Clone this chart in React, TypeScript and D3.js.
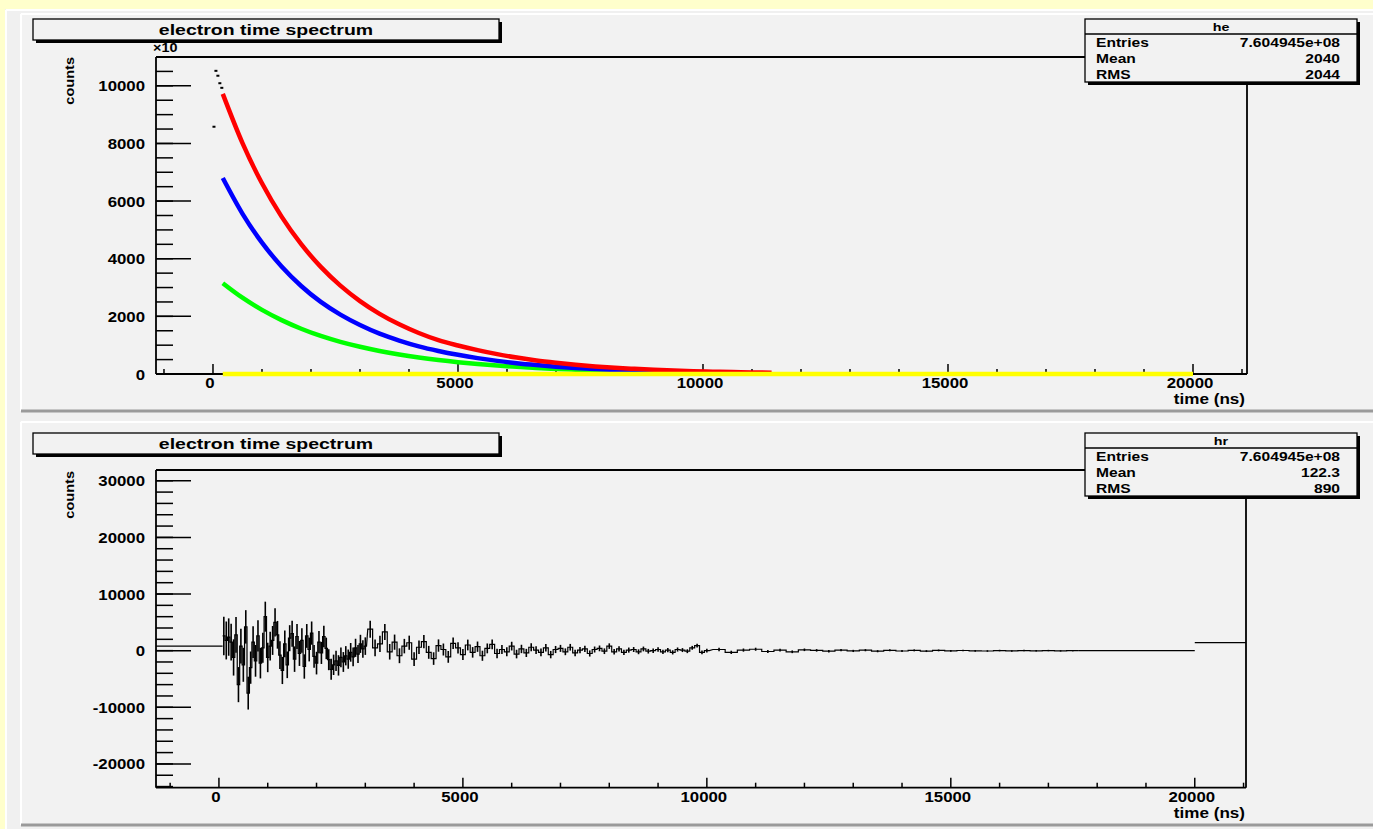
import React from 'react';
import * as d3 from 'd3';

const W = 1373;
const H = 829;
const FONT = '"Liberation Sans", Arial, Helvetica, sans-serif';

// ---------- top panel: electron time spectrum (he) ----------
const redT = [200, 600, 1000, 1400, 1800, 2200, 2600, 3000, 3400, 3800, 4200, 4600, 5000, 5400, 5800, 6200, 6600, 7000, 7400, 7800, 8200, 8600, 9000, 9400, 9800, 10200, 10600, 11000, 11400];
const redV = [9720, 8020, 6617, 5460, 4505, 3717, 3067, 2531, 2088, 1723, 1422, 1173, 990, 830, 690, 570, 470, 390, 320, 262, 215, 178, 146, 120, 99, 82, 68, 56, 46];
const blueT = [200, 600, 1000, 1400, 1800, 2200, 2600, 3000, 3400, 3800, 4200, 4600, 5000, 5400, 5800, 6200, 6600, 7000, 7400, 7800, 8200, 8600, 9000, 9400, 9800];
const blueV = [6800, 5567, 4558, 3732, 3055, 2501, 2060, 1700, 1400, 1160, 960, 800, 665, 550, 455, 375, 310, 255, 210, 172, 140, 115, 94, 77, 63];
const greenT = [200, 600, 1000, 1400, 1800, 2200, 2600, 3000, 3400, 3800, 4200, 4600, 5000, 5400, 5800, 6200, 6600, 7000, 7400, 7800, 8200, 8600, 9000, 9400, 9800];
const greenV = [3150, 2647, 2225, 1870, 1571, 1320, 1115, 945, 800, 677, 573, 485, 410, 347, 293, 248, 210, 177, 150, 127, 107, 90, 76, 64, 54];
const yellowT = [200, 20000];
const yellowV = [0, 0];
const blackT = [20, 60, 100, 140, 180];
const blackV = [8580, 10520, 10350, 10090, 9930];

const topYMajor = [0, 2000, 4000, 6000, 8000, 10000];
const xMajor = [0, 5000, 10000, 15000, 20000];

const statsTop = { name: 'he', rows: [['Entries', '7.604945e+08'], ['Mean', '2040'], ['RMS', '2044']] };
const statsBot = { name: 'hr', rows: [['Entries', '7.604945e+08'], ['Mean', '122.3'], ['RMS', '890']] };

// ---------- bottom panel: residuals (hr) ----------
const resEarlyV = [2600, 1800, 2400, 1500, -1200, 2800, -6000, 800, -2500, 4200, -7500, -3000, 1500, -1800, 2600, -2200, 500, 6000, -1200, 800, 1800, 5000, 2800, -800, -3500, 1200, -2500, 2200, 3000, -1500, 2500, -500, 1800, -2800, 2600, 200, 3100, -1000, -2200, 1500, -400, 2500, 400, -1600, -3300, -2500, -1800, -2600, -1200, -2000, -900, -1500, -300, -1100, 500, -600, 1200, 300, 800];
const resEarlyE = [3400, 3350, 3300, 3250, 3200, 3150, 3100, 3050, 3000, 2950, 2900, 2850, 2800, 2800, 2750, 2700, 2650, 2650, 2600, 2550, 2550, 2500, 2450, 2450, 2400, 2350, 2350, 2300, 2300, 2250, 2200, 2200, 2150, 2150, 2100, 2100, 2050, 2000, 2000, 1950, 1950, 1900, 1900, 1850, 1850, 1800, 1800, 1800, 1750, 1750, 1700, 1700, 1650, 1650, 1600, 1600, 1600, 1550, 1550];
const resMidV = [3800, 500, 1200, 3300, -200, 1500, -900, 800, 1400, -1500, 600, 1600, -300, -1400, 900, 200, -1100, 1300, 500, -700, 1000, -300, 700, -900, 400, 1100, -500, 200, -200, 800, -600, 300, -400, 600, 100, -300, 500, -700, 200, 400, -200, 600, -400, 100, 300, -500, 200, 400, -100, 800, -200, 300, -300, 100, 200, -200, 300, -100, 0, 200, -200, 100, -300, 200, 100, -100, 500, 900, -300, 0];
const resMidE = [1500, 1470, 1440, 1400, 1370, 1340, 1310, 1280, 1250, 1220, 1190, 1170, 1140, 1110, 1090, 1060, 1040, 1020, 1000, 970, 950, 930, 910, 890, 870, 850, 830, 810, 790, 770, 760, 740, 720, 710, 690, 680, 660, 650, 630, 620, 600, 590, 580, 560, 550, 540, 530, 510, 500, 490, 480, 470, 460, 450, 440, 430, 420, 410, 400, 390, 380, 380, 370, 360, 350, 340, 340, 330, 320, 320];
const resLateV = [200, -300, 100, 250, -150, 100, -200, 150, 50, -100, 100, -50, 80, -100, 60, -60, 50, -80, 40, -50, 30, -40, -60, 20, -50, 10, -30, 20, -40, 0];
const resLateE = [300, 290, 280, 270, 260, 250, 240, 230, 220, 210, 200, 195, 190, 185, 180, 175, 170, 165, 160, 155, 150, 145, 140, 135, 130, 128, 126, 124, 122, 120];
const flatT0 = [-1290, 17625, 20000];
const flatT1 = [75, 20000, 21050];
const flatV = [800, 0, 1400];

const botYMajor = [-20000, -10000, 0, 10000, 20000, 30000];

type TProps = { x: number; y: number; size: number; anchor?: string; sx?: number; rot?: number; children: React.ReactNode };
const T = ({ x, y, size, anchor = 'start', sx = 1.25, rot = 0, children }: TProps) => (
  <text
    transform={`translate(${x},${y}) rotate(${rot}) scale(${sx},1)`}
    textAnchor={anchor as any}
    fontFamily={FONT}
    fontWeight="bold"
    fontSize={size}
    fill="#000"
  >
    {children}
  </text>
);

function TitleBox({ y }: { y: number }) {
  const x = 33, w = 466, h = 21;
  return (
    <g>
      <rect x={x + 3} y={y + 3} width={w} height={h} fill="#000" />
      <rect x={x} y={y} width={w} height={h} fill="#f2f2f2" stroke="#000" strokeWidth={1.3} />
      <T x={x + w / 2} y={y + 16} size={15} anchor="middle" sx={1.3}>electron time spectrum</T>
    </g>
  );
}

function StatsBox({ y, stats }: { y: number; stats: { name: string; rows: string[][] } }) {
  const x = 1085, w = 272, h = 63;
  return (
    <g>
      <rect x={x + 3} y={y + 3} width={w} height={h} fill="#000" />
      <rect x={x} y={y} width={w} height={h} fill="#f2f2f2" stroke="#000" strokeWidth={1.3} />
      <line x1={x} x2={x + w} y1={y + 15} y2={y + 15} stroke="#000" strokeWidth={1.3} />
      <T x={x + w / 2} y={y + 12} size={11} anchor="middle" sx={1.3}>{stats.name}</T>
      {stats.rows.map((r, i) => (
        <g key={r[0]}>
          <T x={x + 11} y={y + 27.5 + i * 16} size={12} sx={1.3}>{r[0]}</T>
          <T x={x + 255} y={y + 27.5 + i * 16} size={12} anchor="end" sx={1.3}>{r[1]}</T>
        </g>
      ))}
    </g>
  );
}

function Frame({ x, y, top, bottom, xMinor, yMajor, yMinor }: any) {
  const [l, r] = x.range();
  return (
    <g stroke="#000" strokeWidth={1.8} fill="none">
      <line x1={l} x2={r} y1={top} y2={top} />
      <line x1={r} x2={r} y1={top} y2={bottom} />
      <line x1={l} x2={l} y1={top} y2={bottom} />
      <line x1={l} x2={r} y1={bottom} y2={bottom} />
      {yMinor.map((v: number) => (
        <line key={'ym' + v} x1={l} x2={l + 17} y1={y(v)} y2={y(v)} strokeWidth={1.5} />
      ))}
      {yMajor.map((v: number) => (
        <line key={'yM' + v} x1={l} x2={l + 35} y1={y(v)} y2={y(v)} strokeWidth={1.5} />
      ))}
      {xMinor.map((v: number) => (
        <line key={'xm' + v} x1={x(v)} x2={x(v)} y1={bottom} y2={bottom - 5} strokeWidth={1.5} />
      ))}
      {xMajor.map((v: number) => (
        <line key={'xM' + v} x1={x(v)} x2={x(v)} y1={bottom} y2={bottom - 10} strokeWidth={1.5} />
      ))}
    </g>
  );
}

function Labels({ x, y, bottom, yMajor, top }: any) {
  return (
    <g>
      {yMajor.map((v: number) => (
        <T key={'yl' + v} x={145} y={y(v) + 5.5} size={14} anchor="end" sx={1.2}>{String(v)}</T>
      ))}
      {xMajor.map((v: number) => (
        <T key={'xl' + v} x={x(v) - 3} y={bottom + 14} size={14} anchor="middle" sx={1.2}>{String(v)}</T>
      ))}
      <T x={1245} y={bottom + 30} size={14} anchor="end" sx={1.22}>time (ns)</T>
      <T x={74} y={top} size={13} anchor="end" rot={-90} sx={1.12}>counts</T>
    </g>
  );
}

export default function App() {
  const xTop = d3.scaleLinear().domain([-1163, 21102]).range([156, 1247]);
  const yTop = d3.scaleLinear().domain([0, 11000]).range([374, 57]);
  const xBot = d3.scaleLinear().domain([-1290, 21050]).range([156, 1246]);
  const yBot = d3.scaleLinear().domain([-24200, 31900]).range([787.7, 470]);

  const xMinor = d3.range(-1000, 21001, 1000).filter((v) => !xMajor.includes(v));
  const topYMinor = d3.range(0, 11001, 500);
  const botYMinor = d3.range(-24000, 30001, 2000);

  const lineTop = (ts: number[], vs: number[]) =>
    d3.line<number>().x((_, i) => xTop(ts[i])).y((v) => yTop(v)).curve(d3.curveMonotoneX)(vs) || '';

  const curves = [
    { t: greenT, v: greenV, c: '#00ff00' },
    { t: blueT, v: blueV, c: '#0000ff' },
    { t: redT, v: redV, c: '#ff0000' },
  ];

  const earlyT = d3.range(100, 3001, 50);
  const midT = d3.range(3100, 10001, 100);
  const lateT = d3.range(10250, 17501, 250);
  const bins: { t: number; w: number; v: number; e: number }[] = [];
  earlyT.forEach((t, i) => bins.push({ t, w: 50, v: resEarlyV[i], e: resEarlyE[i] }));
  midT.forEach((t, i) => bins.push({ t, w: 100, v: resMidV[i], e: resMidE[i] }));
  lateT.forEach((t, i) => bins.push({ t, w: 250, v: resLateV[i], e: resLateE[i] }));

  // jagged step outline through bin contents
  const stepPts: [number, number][] = [];
  bins.forEach((b) => {
    stepPts.push([xBot(b.t - b.w / 2), yBot(b.v)]);
    stepPts.push([xBot(b.t + b.w / 2), yBot(b.v)]);
  });
  const stepPath = d3.line()(stepPts) || '';

  return (
    <svg width={W} height={H} style={{ position: 'absolute', left: 0, top: 0, display: 'block' }}>
      <rect width={W} height={H} fill="#ffffcc" />
      <rect x={5} y={9} width={W - 5} height={H - 9} fill="#f0f0f0" />
      <line x1={6} x2={W} y1={10} y2={10} stroke="#fff" strokeWidth={2} />
      <line x1={6} x2={6} y1={10} y2={H} stroke="#fff" strokeWidth={2} />
      <rect x={20} y={13} width={W - 20} height={398} fill="#f2f2f2" />
      <line x1={21} x2={W} y1={14} y2={14} stroke="#fff" strokeWidth={2} />
      <line x1={21} x2={21} y1={14} y2={411} stroke="#fff" strokeWidth={2} />
      <line x1={21} x2={W} y1={411} y2={411} stroke="#9a9a9a" strokeWidth={3} />
      <rect x={20} y={421} width={W - 20} height={404} fill="#f2f2f2" />
      <line x1={21} x2={W} y1={422} y2={422} stroke="#fff" strokeWidth={2} />
      <line x1={21} x2={21} y1={422} y2={825} stroke="#fff" strokeWidth={2} />
      <line x1={21} x2={W} y1={825} y2={825} stroke="#9a9a9a" strokeWidth={3} />

      {/* ---------- top panel ---------- */}
      <Frame x={xTop} y={yTop} top={57} bottom={374} xMinor={xMinor} yMajor={topYMajor} yMinor={topYMinor} />
      {curves.map((c) => (
        <path key={c.c} d={lineTop(c.t, c.v)} fill="none" stroke={c.c} strokeWidth={4.5} strokeLinecap="butt" />
      ))}
      <path d={lineTop(yellowT, yellowV)} fill="none" stroke="#ffff00" strokeWidth={4.5} />
      {blackT.map((t, i) => (
        <rect key={'bk' + t} x={xTop(t) - 1.5} y={yTop(blackV[i]) - 1} width={3} height={2} fill="#000" />
      ))}
      <Labels x={xTop} y={yTop} bottom={374} yMajor={topYMajor} top={57} />
      <T x={153} y={52} size={12} sx={1.2}>×10</T>
      <TitleBox y={19} />
      <StatsBox y={19} stats={statsTop} />

      {/* ---------- bottom panel ---------- */}
      <Frame x={xBot} y={yBot} top={470} bottom={787.7} xMinor={xMinor} yMajor={botYMajor} yMinor={botYMinor} />
      <g stroke="#000" strokeWidth={1.3} fill="none">
        {flatV.map((v, i) => (
          <line key={'fl' + i} x1={xBot(flatT0[i])} x2={xBot(flatT1[i])} y1={yBot(v)} y2={yBot(v)} />
        ))}
        <path d={stepPath} strokeWidth={1.2} />
        {bins.map((b) => (
          <line key={'b' + b.t} x1={xBot(b.t)} x2={xBot(b.t)} y1={yBot(b.v - b.e)} y2={yBot(b.v + b.e)} strokeWidth={1.6} />
        ))}
      </g>
      <Labels x={xBot} y={yBot} bottom={787.7} yMajor={botYMajor} top={471} />
      <TitleBox y={433} />
      <StatsBox y={433} stats={statsBot} />
    </svg>
  );
}
